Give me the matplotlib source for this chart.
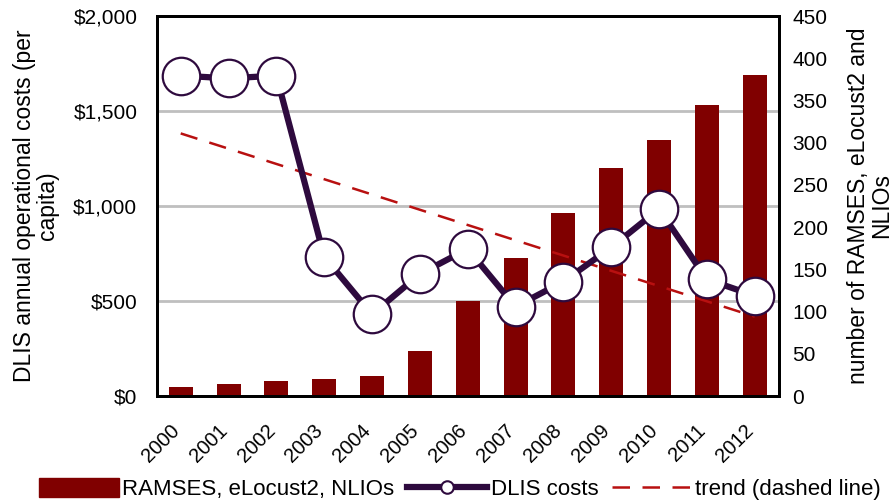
import matplotlib
matplotlib.use("Agg")
import matplotlib.pyplot as plt
from matplotlib.lines import Line2D
from matplotlib.patches import Patch
from matplotlib.transforms import ScaledTranslation

# ===== DATA =====
years = ["2000", "2001", "2002", "2003", "2004", "2005", "2006",
         "2007", "2008", "2009", "2010", "2011", "2012"]
n_systems = [11, 14, 18, 20, 24, 53, 113, 163, 217, 270, 303, 345, 380]
dlis_costs = [1686, 1672, 1686, 733, 430, 642, 774, 470, 602, 782, 984, 614, 528]
trend_ends = [1382, 418]  # trend value at first and last year

BAR_COLOR = "#800000"
LINE_COLOR = "#2E0A3E"
TREND_COLOR = "#B81010"

plt.rcParams["font.family"] = ["Liberation Sans", "DejaVu Sans"]

fig = plt.figure(figsize=(8.96, 5.0), dpi=100)
ax = fig.add_axes([0.175, 0.208, 0.694, 0.760])
ax2 = ax.twinx()
ax3 = ax.twinx()

x = list(range(len(years)))

# grid + left scale (bottom layer)
ax.set_ylim(0, 2000)
ax.set_yticks([0, 500, 1000, 1500, 2000])
ax.set_yticklabels(["$0", "$500", "$1,000", "$1,500", "$2,000"])
ax.grid(axis="y", color="#BFBFBF", lw=2)
ax.set_axisbelow(True)
ax.set_xlim(-0.5, len(years) - 0.5)
ax.set_xticks(x)
ax.set_xticklabels(years, rotation=45, ha="right", va="top",
                   rotation_mode="anchor")
ax.tick_params(axis="y", length=0, labelsize=15, pad=14)
ax.tick_params(axis="x", length=0, labelsize=14.5, pad=18)
shift = ScaledTranslation(-11 / 100, 0, fig.dpi_scale_trans)
for lbl in ax.get_xticklabels():
    lbl.set_transform(lbl.get_transform() + shift)
ax.set_ylabel("DLIS annual operational costs (per\ncapita)", fontsize=16.5,
              linespacing=1.0, labelpad=10)

# bars on right scale
ax2.bar(x, n_systems, width=0.5, color=BAR_COLOR, zorder=2)
ax2.set_ylim(0, 450)
ax2.set_yticks(range(0, 451, 50))
ax2.tick_params(axis="y", length=0, labelsize=15, pad=10)
ax2.set_ylabel("number of RAMSES, eLocust2 and\nNLIOs", fontsize=16.5,
               linespacing=1.0, labelpad=14)

# line + trend on left scale, top layer
ax3.set_ylim(0, 2000)
ax3.set_yticks([])
ax3.plot([x[0], x[-1]], trend_ends, color=TREND_COLOR, lw=1.8,
         dashes=(7, 5), zorder=2)
ax3.plot(x, dlis_costs, color=LINE_COLOR, lw=4.5, marker="o", ms=27,
         mfc="white", mec=LINE_COLOR, mew=1.6, zorder=3)

for a in (ax, ax2, ax3):
    for s in a.spines.values():
        s.set_linewidth(2)
        s.set_color("black")

handles = [
    Patch(color=BAR_COLOR),
    Line2D([], [], color=LINE_COLOR, lw=4.5, marker="o", ms=9,
           mfc="white", mec=LINE_COLOR, mew=1.5),
    Line2D([], [], color=TREND_COLOR, lw=1.8, dashes=(7, 5)),
]
labels = ["RAMSES, eLocust2, NLIOs", "DLIS costs", "trend (dashed line)"]
fig.legend(handles, labels, loc="center", bbox_to_anchor=(0.513, 0.022),
           ncol=3, frameon=False, fontsize=16, handlelength=3.6,
           handleheight=0.9, handletextpad=0.15, columnspacing=0.6,
           borderaxespad=0)

fig.savefig("out.png", dpi=100)
